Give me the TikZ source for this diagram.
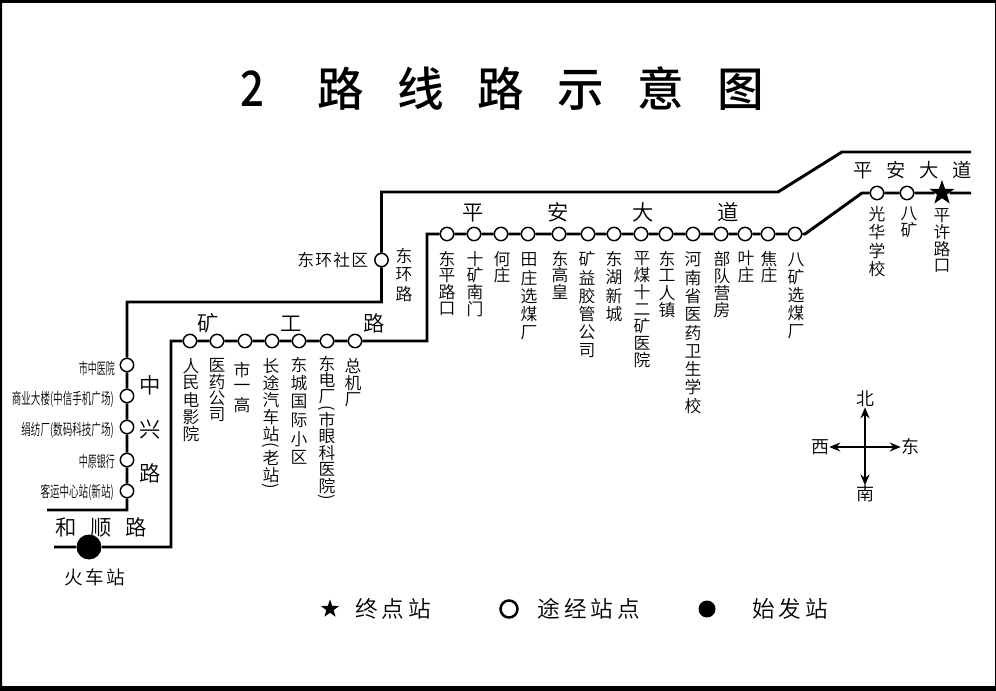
\documentclass[tikz,border=0pt]{standalone}
\usepackage{graphicx}
\usepackage{fontspec}
\setmainfont[UprightFont=* DemiLight,BoldFont=* Medium]{Noto Sans CJK SC}
\usetikzlibrary{shapes.geometric,arrows.meta}
\newdimen\pxu \pxu=0.75pt
\makeatletter
\def\vlp{(}\def\vrp{)}
\def\vt@lp{\vlp}\def\vt@rp{\vrp}
\newcommand\vtxt[2][17]{\vbox{\offinterlineskip\def\vt@p{#1}\@tfor\vt@c:=#2\do{%
  \ifx\vt@c\vt@lp\vt@par{(}\else\ifx\vt@c\vt@rp\vt@par{)}\else
  \vbox to \vt@p\pxu{\vss\hbox to 16\pxu{\hss\vt@c\hss}\vss}\fi\fi}}}
\newcommand\vt@par[1]{\vbox to 7\pxu{\vss\hbox to 16\pxu{\hss\rotatebox{-90}{#1}\hss}\vss}}
\newcommand\htxt[2][20]{\hbox{\@tfor\vt@c:=#2\do{\hbox to #1\pxu{\hss\vt@c\hss}}}}
\makeatother
\tikzset{
  stn/.style={circle,draw,fill=white,line width=1.1pt,minimum size=10pt,inner sep=0pt},
  startst/.style={circle,fill=black,minimum size=18.75pt,inner sep=0pt},
  endst/.style={star,star points=5,star point ratio=2.5,fill=black,minimum size=19.5pt,inner sep=0pt},
  route/.style={line width=2.2pt,line join=miter},
  vl/.style={anchor=north,inner sep=0pt,font=\fontsize{12.6}{12.6}\selectfont},
  road/.style={inner sep=0pt,font=\fontsize{16}{16}\selectfont},
  smalll/.style={anchor=east,inner sep=0pt,font=\fontsize{11.2}{11.2}\selectfont},
  compass/.style={line width=1.1pt,-{Stealth[length=8.25pt,width=6.75pt]}},
  compl/.style={inner sep=0pt,font=\fontsize{13.5}{13.5}\selectfont},
  legend/.style={inner sep=0pt,font=\fontsize{17}{17}\selectfont},
}
\begin{document}
\begin{tikzpicture}[x=0.75pt,y=-0.75pt]
\useasboundingbox (0,0) rectangle (996,691);
\fill[black,even odd rule] (0,0) rectangle (996,691) (2,3) rectangle (995,686);
% title
\node[anchor=west,inner sep=0pt,font=\fontsize{35}{35}\selectfont\bfseries] (title) at (203,89)
  {\hbox to 98\pxu{\hss\scalebox{0.9}[1.05]{2}\hss}\htxt[80]{路线路示意图}};
% corners
\coordinate (u0) at (47,510); \coordinate (u1) at (127,510);
\coordinate (u2) at (127,302); \coordinate (u3) at (381.5,302);
\coordinate (u4) at (381.5,192); \coordinate (u5) at (778,192);
\coordinate (u6) at (842,152); \coordinate (u7) at (971,152);
\coordinate (l0) at (54,547); \coordinate (l1) at (171,547);
\coordinate (l2) at (171,341); \coordinate (l3) at (427,341);
\coordinate (l4) at (427,234); \coordinate (l5) at (805,234);
\coordinate (l6) at (862,193); \coordinate (l7) at (971,193);
% stations
\node[startst] (hc) at (89,547) {};
\foreach \n/\x in {k1/190,k2/217,k3/245,k4/272,k5/299,k6/327,k7/355}
  \node[stn] (\n) at (\x,341) {};
\foreach \n/\x in {p1/447,p2/474,p3/501,p4/528,p5/559,p6/588,p7/614,p8/641,p9/666,p10/693,p11/721,p12/745,p13/768,p14/795}
  \node[stn] (\n) at (\x,234) {};
\node[stn] (e1) at (877,193) {};
\node[stn] (e2) at (907,193) {};
\node[endst] (e3) at (942,193) {};
\foreach \n/\y in {z1/365,z2/396,z3/427,z4/460,z5/491}
  \node[stn] (\n) at (127,\y) {};
\node[stn] (dh) at (381.5,260) {};
% routes
\draw[route] (u0) -- (u1) -- (z5) -- (z4) -- (z3) -- (z2) -- (z1) -- (u2) -- (u3) -- (dh) -- (u4) -- (u5) -- (u6) -- (u7);
\draw[route] (l0) -- (hc) -- (l1) -- (l2) -- (k1) -- (k2) -- (k3) -- (k4) -- (k5) -- (k6) -- (k7) -- (l3) -- (l4) -- (p1) -- (p2) -- (p3) -- (p4) -- (p5) -- (p6) -- (p7) -- (p8) -- (p9) -- (p10) -- (p11) -- (p12) -- (p13) -- (p14) -- (l5) -- (l6) -- (e1) -- (e2) -- (e3) -- (l7);
% road names
\node[road] (rk) at (291,323) {\htxt[83]{矿工路}};
\node[road] (rp) at (600.5,212) {\htxt[85]{平安大道}};
\node[road,font=\fontsize{14.5}{14.5}\selectfont] (re) at (912.5,170) {\htxt[33]{平安大道}};
\node[road] (rh) at (101,527) {\htxt[35]{和顺路}};
\node[road,anchor=north] (rz) at (150,363) {\vtxt[44]{中兴路}};
\node[vl] (rd) at (404,246) {\vtxt[19]{东环路}};
\node[road,font=\fontsize{14}{14}\selectfont] (lhc) at (95,577) {\htxt[21]{火车站}};
\node[inner sep=0pt,anchor=east,font=\fontsize{12.6}{12.6}\selectfont] (ldh) at (369,260) {\htxt[18]{东环社区}};
% vertical labels: 矿工路
\node[vl] (tk1) at (191,357) {\vtxt{人民电影院}};
\node[vl] (tk2) at (217,357) {\vtxt[16.4]{医药公司}};
\node[vl] (tk3) at (242,361) {\vtxt[17.7]{市一高}};
\node[vl] (tk4) at (271,357) {\vtxt{长途汽车站{\vlp}老站{\vrp}}};
\node[vl] (tk5) at (299,355) {\vtxt[18.6]{东城国际小区}};
\node[vl] (tk6) at (327,355) {\vtxt[16.5]{东电厂{\vlp}市眼科医院{\vrp}}};
\node[vl] (tk7) at (353,357) {\vtxt{总机厂}};
% vertical labels: 平安大道
\node[vl] (tp1) at (447,250) {\vtxt[16.8]{东平路口}};
\node[vl] (tp2) at (475,250) {\vtxt[16.8]{十矿南门}};
\node[vl] (tp3) at (502,250) {\vtxt[16.8]{何庄}};
\node[vl] (tp4) at (529,250) {\vtxt[18.3]{田庄选煤厂}};
\node[vl] (tp5) at (560,250) {\vtxt[16.8]{东高皇}};
\node[vl] (tp6) at (587,250) {\vtxt[18.3]{矿益胶管公司}};
\node[vl] (tp7) at (614,250) {\vtxt[18.3]{东湖新城}};
\node[vl] (tp8) at (642,250) {\vtxt[16.9]{平煤十二矿医院}};
\node[vl] (tp9) at (667,250) {\vtxt{东工人镇}};
\node[vl] (tp10) at (693,250) {\vtxt[18.3]{河南省医药卫生学校}};
\node[vl] (tp11) at (722,250) {\vtxt{部队营房}};
\node[vl] (tp12) at (746,250) {\vtxt[16.8]{叶庄}};
\node[vl] (tp13) at (769,250) {\vtxt[16.8]{焦庄}};
\node[vl] (tp14) at (796,250) {\vtxt[18]{八矿选煤厂}};
\node[vl] (te1) at (877,205) {\vtxt[18.2]{光华学校}};
\node[vl] (te2) at (909,205) {\vtxt[16.5]{八矿}};
\node[vl] (te3) at (942,207) {\vtxt[16.7]{平许路口}};
% 中兴路 stations
\node[smalll] (tz1) at (115,368) {\scalebox{0.6}[1.05]{市中医院}};
\node[smalll] (tz2) at (114,399) {\scalebox{0.64}[1.05]{商业大楼(中信手机广场)}};
\node[smalll] (tz3) at (114,430) {\scalebox{0.64}[1.05]{绢纺厂(数码科技广场)}};
\node[smalll] (tz4) at (115,462) {\scalebox{0.6}[1.05]{中原银行}};
\node[smalll] (tz5) at (114,492) {\scalebox{0.64}[1.05]{客运中心站(新站)}};
% compass
\node[compl] (cn) at (865,399) {北};
\node[compl] (cs) at (865,494) {南};
\node[compl] (cw) at (820,447) {西};
\node[compl] (ce) at (910,447) {东};
\coordinate (cc) at (865,447);
\draw[compass] (cc) -- (cn);
\draw[compass] (cc) -- (cs);
\draw[compass] (cc) -- (cw);
\draw[compass] (cc) -- (ce);
% legend
\node[star,star points=5,star point ratio=2.5,fill=black,minimum size=14.25pt,inner sep=0pt] (lg1) at (330,609) {};
\node[legend] (lt1) at (393,609) {\htxt[26.5]{终点站}};
\node[circle,draw,line width=1.9pt,minimum size=12.75pt,inner sep=0pt] (lg2) at (509,609) {};
\node[legend] (lt2) at (589,609) {\htxt[26.5]{途经站点}};
\node[circle,fill=black,minimum size=12.75pt,inner sep=0pt] (lg3) at (707,609) {};
\node[legend] (lt3) at (790,609) {\htxt[26.5]{始发站}};
\end{tikzpicture}
\end{document}
